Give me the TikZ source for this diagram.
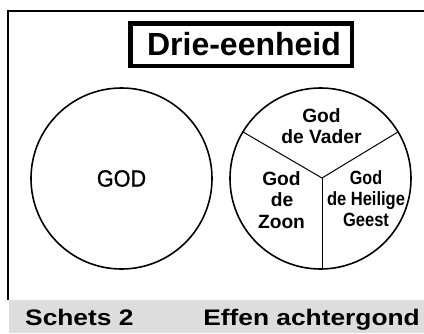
\documentclass[tikz,border=0pt]{standalone}
\usepackage{fontspec}
\usepackage{graphicx}
\setmainfont{Liberation Sans}
\newfontfamily\godfont[FakeBold=1.3]{Liberation Sans}
\definecolor{band}{RGB}{221,221,221}
\begin{document}
\begin{tikzpicture}[x=1pt,y=-1pt,
  lbl/.style={font=\bfseries\fontsize{19.2}{21}\selectfont, inner sep=0pt, anchor=base},
  bandtxt/.style={font=\bfseries\fontsize{22.5}{24}\selectfont, inner sep=0pt},
  bigcircle/.style={circle, draw, line width=1.6pt, minimum size=181pt, inner sep=0pt},
  divider/.style={line width=1pt}]
\useasboundingbox (0,0) rectangle (424,333);
\clip (0,0) rectangle (424,333);
\fill[white] (0,0) rectangle (424,333);
\fill[band] (9,300) rectangle (424,333);
\draw[line width=2.2pt] (8.3,300) -- (8.3,11) -- (430,11);
% title
\node[draw, line width=4.5pt, minimum width=221.5pt, minimum height=42.5pt, inner sep=0pt] (titlebox) at (241,44.5) {};
\node[font=\bfseries\fontsize{32}{32}\selectfont, inner sep=0pt, anchor=base] (title) at (244,55.5) {Drie-eenheid};
% left circle
\node[bigcircle, font=\godfont\fontsize{23.5}{24}\selectfont] (lc) at (121.5,178.5) {\scalebox{0.92}[1]{GOD}};
% right circle
\node[bigcircle] (rc) at (320.5,178.5) {};
\coordinate (j) at (322,178);
\draw[divider] (rc.149) -- (j) -- (rc.31);
\draw[divider] (j) -- (j |- rc.south);
% labels
\node[lbl] (v1) at (321.5,122) {God};
\node[lbl] (v2) at (321.5,143) {de Vader};
\node[lbl] (z1) at (281.5,185) {God};
\node[lbl] (z2) at (282,206) {de};
\node[lbl] (z3) at (281.5,228) {Zoon};
\node[lbl] (h1) at (366,184) {\scalebox{0.84}[1]{God}};
\node[lbl] (h2) at (366,205) {\scalebox{0.86}[1]{de Heilige}};
\node[lbl] (h3) at (366,226) {\scalebox{0.86}[1]{Geest}};
% band texts
\node[bandtxt, anchor=base west] (s2) at (25,325) {\scalebox{1.17}[1]{Schets 2}};
\node[bandtxt, anchor=base east] (ea) at (420,325) {\scalebox{1.17}[1]{Effen achtergond}};
\end{tikzpicture}
\end{document}
